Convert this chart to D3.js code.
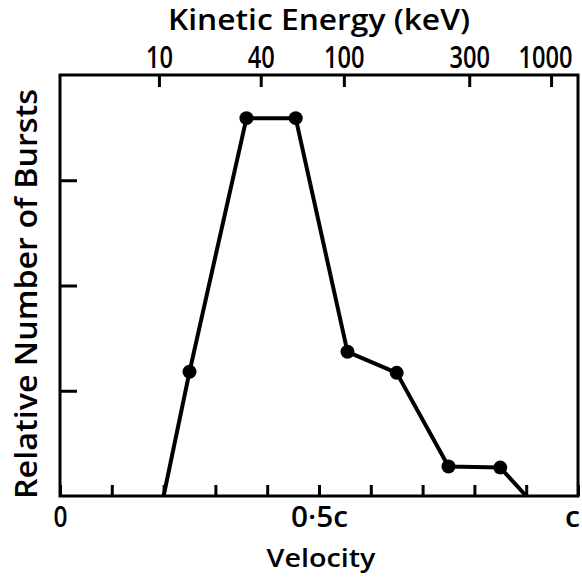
<!DOCTYPE html>
<html>
<head>
<meta charset="utf-8">
<script src="https://cdn.jsdelivr.net/npm/d3@7"></script>
<style>
  html, body { margin: 0; padding: 0; background: #fff; }
  svg { display: block; }
  text { font-family: "Open Sans", "DejaVu Sans", sans-serif; fill: #000; font-weight: 600; }
</style>
</head>
<body>
<svg id="chart" width="582" height="577"></svg>
<script>
// Data
const velocity = [0.2, 0.25, 0.36, 0.455, 0.555, 0.65, 0.75, 0.85, 0.9];   // fraction of c
const bursts   = [0, 1.18, 3.59, 3.59, 1.37, 1.17, 0.28, 0.27, 0];        // relative number
const velTicks = [0, 0.1, 0.2, 0.3, 0.4, 0.5, 0.6, 0.7, 0.8, 0.9, 1.0];
const velLabelValues = [0, 0.5, 1.0];
const velLabels = ["0", "0·5c", "c"];
const energyLabels = ["10", "40", "100", "300", "1000"];              // keV
const energyTickVel = [0.191, 0.3875, 0.548, 0.79, 0.948];            // velocity position of each energy tick
const countTicks = [1, 2, 3];

const svg = d3.select("#chart");
const x = d3.scaleLinear().domain([0, 1]).range([60, 578]);
const y = d3.scaleLinear().domain([0, 4]).range([496, 75]);

// Bottom ticks (inward)
const gB = svg.append("g").attr("transform", `translate(0,${y(0)})`)
  .call(d3.axisBottom(x).tickValues(velTicks).tickSize(-11).tickFormat(""));
gB.select(".domain").remove();
gB.selectAll(".tick line").attr("stroke", "#000").attr("stroke-width", 3);

// Bottom labels
const gBL = svg.append("g").attr("transform", `translate(0,${y(0)})`)
  .call(d3.axisBottom(x).tickValues(velLabelValues).tickSize(0).tickPadding(0)
    .tickFormat((d, i) => velLabels[i]));
gBL.select(".domain").remove();
gBL.selectAll(".tick text")
  .attr("y", 31).attr("dy", null)
  .style("font-size", "28px").style("font-weight", "600")
  .attr("fill", "#000")
  .each(function(d, i) {
    d3.select(this).attr("textLength", [14, 57, 15][i]).attr("lengthAdjust", "spacingAndGlyphs")
      .attr("dx", [0, 0, -6][i]);
  });

// Left ticks (inward)
const gL = svg.append("g").attr("transform", `translate(${x(0)},0)`)
  .call(d3.axisLeft(y).tickValues(countTicks).tickSize(-17).tickFormat(""));
gL.select(".domain").remove();
gL.selectAll(".tick line").attr("stroke", "#000").attr("stroke-width", 3);

// Top energy axis (ticks inward, labels above)
const gT = svg.append("g").attr("transform", `translate(0,${y(4)})`)
  .call(d3.axisTop(x).tickValues(energyTickVel).tickSize(-12).tickFormat(""));
gT.select(".domain").remove();
gT.selectAll(".tick line").attr("stroke", "#000").attr("stroke-width", 3);

const gTL = svg.append("g").attr("transform", `translate(0,${y(4)})`)
  .call(d3.axisTop(x).tickValues(energyTickVel).tickSize(0).tickPadding(0)
    .tickFormat((d, i) => energyLabels[i]));
gTL.select(".domain").remove();
gTL.selectAll(".tick text")
  .attr("y", -7).attr("dy", null)
  .style("font-size", "31px").style("font-weight", "600").attr("fill", "#000")
  .each(function(d, i) {
    d3.select(this).attr("textLength", energyLabels[i].length * 13.5)
      .attr("lengthAdjust", "spacingAndGlyphs")
      .attr("dx", i === energyLabels.length - 1 ? -6 : 0);
  });
svg.selectAll("g").attr("font-family", null);

// Frame
svg.append("rect")
  .attr("x", x(0)).attr("y", y(4))
  .attr("width", x(1) - x(0)).attr("height", y(0) - y(4))
  .attr("fill", "none").attr("stroke", "#000").attr("stroke-width", 3);

// Data line
const pts = velocity.map((v, i) => [v, bursts[i]]);
svg.append("path")
  .datum(pts)
  .attr("fill", "none").attr("stroke", "#000").attr("stroke-width", 4)
  .attr("stroke-linejoin", "round")
  .attr("d", d3.line().x(d => x(d[0])).y(d => y(d[1])));

svg.selectAll("circle.pt")
  .data(pts.filter(d => d[1] > 0))
  .join("circle").attr("class", "pt")
  .attr("cx", d => x(d[0])).attr("cy", d => y(d[1]))
  .attr("r", 7).attr("fill", "#000");

// Titles
svg.append("text")
  .attr("x", 319).attr("y", 30).attr("text-anchor", "middle")
  .style("font-size", "28px")
  .attr("textLength", 302).attr("lengthAdjust", "spacingAndGlyphs")
  .text("Kinetic Energy (keV)");

svg.append("text")
  .attr("x", 321).attr("y", 567).attr("text-anchor", "middle")
  .style("font-size", "25px")
  .attr("textLength", 109).attr("lengthAdjust", "spacingAndGlyphs")
  .text("Velocity");

svg.append("text")
  .attr("transform", "translate(37,294) rotate(-90)")
  .attr("text-anchor", "middle")
  .style("font-size", "31px")
  .attr("textLength", 410).attr("lengthAdjust", "spacingAndGlyphs")
  .text("Relative Number of Bursts");
</script>
</body>
</html>
